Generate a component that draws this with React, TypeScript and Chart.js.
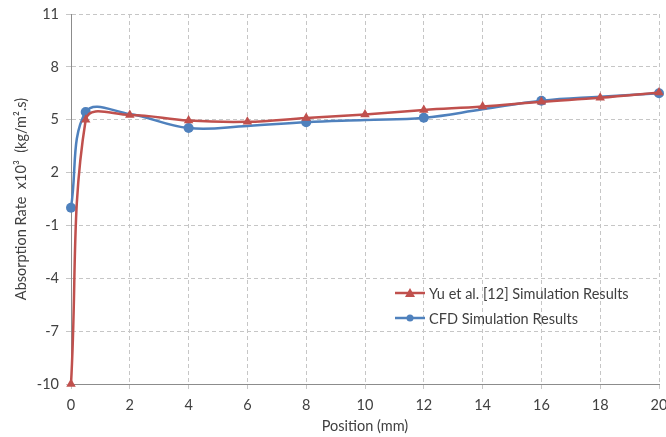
import React, { useEffect, useRef } from "react";
import { Chart, registerables } from "chart.js";

Chart.register(...registerables);

const yuPositions = [0, 0.5, 2, 4, 6, 8, 10, 12, 14, 16, 18, 20];
const yuValues = [-10, 5.0, 5.27, 4.95, 4.88, 5.1, 5.3, 5.55, 5.75, 6.02, 6.25, 6.55];

const cfdPositions = [0, 0.5, 2, 4, 6, 8, 10, 12, 14, 16, 18, 20];
const cfdValues = [0.0, 5.44, 5.32, 4.53, 4.65, 4.86, 4.98, 5.11, 5.59, 6.08, 6.31, 6.5];
const cfdMarkerShown = [true, true, false, true, false, true, false, true, false, true, false, true];

const yTicks = [-10, -7, -4, -1, 2, 5, 8, 11];
const xTicks = [0, 2, 4, 6, 8, 10, 12, 14, 16, 18, 20];

const legendLabels = ["Yu et al. [12] Simulation Results", "CFD Simulation Results"];

const RED = "#C0504D";
const BLUE = "#4F81BD";
const FONT = "Lato, 'Open Sans', sans-serif";
const FS = 14.5;

const legendPlugin = {
  id: "customLegend",
  afterDraw(chart: any) {
    const ctx = chart.ctx;
    const area = chart.chartArea;
    const x0 = area.left + 324;
    const ys = [area.top + 279, area.top + 304];
    ctx.save();
    ctx.font = `${FS}px ${FONT}`;
    ctx.textBaseline = "middle";
    ys.forEach((y, i) => {
      const color = i === 0 ? RED : BLUE;
      ctx.strokeStyle = color;
      ctx.lineWidth = 2.5;
      ctx.beginPath();
      ctx.moveTo(x0, y);
      ctx.lineTo(x0 + 30, y);
      ctx.stroke();
      ctx.fillStyle = color;
      ctx.beginPath();
      if (i === 0) {
        ctx.moveTo(x0 + 15, y - 5);
        ctx.lineTo(x0 + 20, y + 4);
        ctx.lineTo(x0 + 10, y + 4);
        ctx.closePath();
      } else {
        ctx.arc(x0 + 15, y, 3.5, 0, Math.PI * 2);
      }
      ctx.fill();
      ctx.fillStyle = "#404040";
      ctx.fillText(legendLabels[i], x0 + 34, y + 1);
    });
    ctx.restore();
  },
};

export default function App() {
  const ref = useRef<HTMLCanvasElement>(null);
  useEffect(() => {
    document.body.style.margin = "0";
    const chart = new Chart(ref.current!, {
      type: "scatter",
      data: {
        datasets: [
          {
            label: legendLabels[0],
            data: yuPositions.map((x, i) => ({ x, y: yuValues[i] })),
            showLine: true,
            borderColor: RED,
            backgroundColor: RED,
            borderWidth: 2.5,
            pointStyle: "triangle",
            pointRadius: 5.5,
            pointBorderWidth: 0,
            tension: 0.4,
            clip: false as any,
          },
          {
            label: legendLabels[1],
            data: cfdPositions.map((x, i) => ({ x, y: cfdValues[i] })),
            showLine: true,
            borderColor: BLUE,
            backgroundColor: BLUE,
            borderWidth: 2.5,
            pointStyle: "circle",
            pointRadius: cfdMarkerShown.map((s) => (s ? 5 : 0)),
            pointBorderWidth: 0,
            tension: 0.4,
            clip: false as any,
          },
        ],
      },
      options: {
        animation: false,
        responsive: false,
        layout: { padding: { top: 14, right: 7, left: 13, bottom: 0 } },
        plugins: { legend: { display: false }, tooltip: { enabled: false } },
        scales: {
          x: {
            type: "linear",
            min: 0,
            max: 20,
            afterBuildTicks: (s: any) => {
              s.ticks = xTicks.map((v) => ({ value: v }));
            },
            afterFit: (s: any) => {
              s.height = 53;
              s.paddingRight = 0;
              s.paddingLeft = 0;
            },
            grid: { color: "#c6c6c6", tickLength: 5 },
            border: { color: "#8c8c8c", dash: [4, 3], width: 1 },
            ticks: { color: "#404040", font: { size: FS, family: FONT }, padding: 8 },
            title: {
              display: true,
              text: "Position (mm)",
              color: "#404040",
              font: { size: FS, family: FONT },
              padding: { top: 0, bottom: 2 },
            },
          },
          y: {
            type: "linear",
            min: -10,
            max: 11,
            afterBuildTicks: (s: any) => {
              s.ticks = yTicks.map((v) => ({ value: v }));
            },
            afterFit: (s: any) => {
              s.width = 58;
              s.paddingTop = 0;
              s.paddingBottom = 0;
            },
            grid: { color: "#c6c6c6", tickLength: 5 },
            border: { color: "#8c8c8c", dash: [4, 3], width: 1 },
            ticks: { color: "#404040", font: { size: FS, family: FONT }, padding: 7 },
            title: {
              display: true,
              text: "Absorption Rate  x10³  (kg/m².s)",
              color: "#404040",
              font: { size: FS, family: FONT },
              padding: { top: 0, bottom: 4 },
            },
          },
        },
      },
      plugins: [legendPlugin],
    });
    return () => chart.destroy();
  }, []);
  return <canvas ref={ref} width={666} height={437} style={{ display: "block" }} />;
}
